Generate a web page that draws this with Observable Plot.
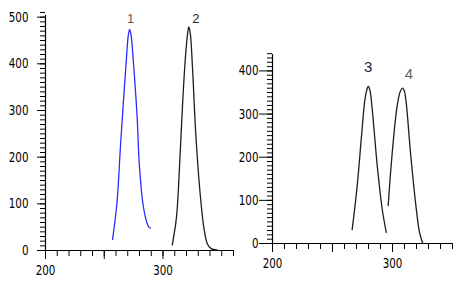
<!DOCTYPE html>
<html>
<head>
<meta charset="utf-8">
<script src="https://cdn.jsdelivr.net/npm/d3@7"></script>
<script src="https://cdn.jsdelivr.net/npm/@observablehq/plot@0.6"></script>
<style>
  html, body { margin: 0; padding: 0; background: #fff; }
  #wrap { position: relative; width: 471px; height: 294px; overflow: hidden; background: #fff; }
  #wrap svg { position: absolute; top: 0; background: none !important; }
</style>
</head>
<body>
<div id="wrap"></div>
<script>
// ---- data ----
const peak1X = [257.1, 260.9, 263.7, 266.5, 268.5, 270.5, 271.6, 272.8, 275.0, 277.9, 279.9, 283.1, 286.5, 288.0, 289.3];
const peak1Y = [24, 104, 219, 326, 397, 462, 474, 462, 397, 290, 182, 97, 58, 50, 48];
const peak2X = [307.9, 311.5, 314.1, 316.9, 319.2, 321.0, 322.0, 323.2, 325.0, 327.8, 331.5, 334.9, 337.8, 341.0, 346.3];
const peak2Y = [12, 72, 182, 325, 418, 466, 479, 466, 397, 254, 125, 47, 14, 4, 1];
const peak3X = [266.4, 270.6, 274.2, 276.9, 278.6, 279.8, 281.2, 283.1, 287.3, 291.4, 294.8];
const peak3Y = [32, 134, 250, 331, 356, 364, 355, 311, 180, 80, 26];
const peak4X = [296.4, 299.8, 303.9, 306.7, 308.6, 310.0, 311.4, 315.0, 319.2, 322.5, 325.3];
const peak4Y = [88, 211, 319, 354, 360, 352, 327, 211, 95, 26, 0];
const peakLabels = ["1", "2", "3", "4"];

const leftYMajor = [0, 100, 200, 300, 400, 500];
const rightYMajor = [0, 100, 200, 300, 400];
const xLabels = [200, 300];
const xMajor = [200, 250, 300];

const toRows = (xs, ys) => xs.map((x, i) => ({x, y: ys[i]}));
const peakOf = rows => rows.reduce((a, b) => (b.y > a.y ? b : a));

const tickFont = "'Liberation Sans Narrow', 'DejaVu Sans Condensed', sans-serif";

function panel({width, height, marginLeft, marginRight, marginTop, marginBottom,
                xDomain, yDomain, yMajor, majorTick, labelPad, series}) {
  const x0 = xDomain[0];
  const xMinor = d3.range(xDomain[0], xDomain[1] + 0.1, 10);
  const yMinor = d3.range(0, yDomain[1] + 0.1, 10);
  const marks = [
    // axis lines
    Plot.ruleX([x0], {y1: 0, y2: yDomain[1], stroke: "#000", strokeWidth: 1.2, insetBottom: -3}),
    Plot.ruleY([0], {x1: x0, x2: xDomain[1], stroke: "#000", strokeWidth: 1.2}),
    // y ticks (pointing left)
    Plot.ruleY(yMinor, {y: d => d, x1: x0, x2: x0, insetLeft: -2.5, insetRight: -2.5, dx: -2.5, stroke: "#000"}),
    Plot.ruleY(yMajor, {y: d => d, x1: x0, x2: x0, insetLeft: -majorTick / 2, insetRight: -majorTick / 2, dx: -majorTick / 2, stroke: "#000"}),
    Plot.text(yMajor, {x: x0, y: d => d, text: d => String(d), textAnchor: "end", dx: -(majorTick + labelPad),
      fontSize: 14, fontFamily: tickFont, fill: "#000", lineAnchor: "middle"}),
    // x ticks (pointing down)
    Plot.ruleX(xMinor, {x: d => d, y1: 0, y2: 0, insetTop: -3, insetBottom: -3, dy: 3, stroke: "#000"}),
    Plot.ruleX(xMajor, {x: d => d, y1: 0, y2: 0, insetTop: -4.5, insetBottom: -4.5, dy: 4.5, stroke: "#000"}),
    Plot.text(xLabels, {x: d => d, y: 0, dy: 20, text: d => String(d),
      fontSize: 14, fontFamily: tickFont, fill: "#000", lineAnchor: "middle"}),
  ];
  series.forEach(s => {
    marks.push(Plot.line(s.rows, {x: "x", y: "y", stroke: s.color, strokeWidth: 1.3, curve: "catmull-rom"}));
    const p = peakOf(s.rows);
    marks.push(Plot.text([p], {x: "x", y: "y", text: () => s.label, dx: s.dx, dy: s.dy,
      fontSize: s.size, fontFamily: "'Liberation Sans', sans-serif", fill: s.labelColor, lineAnchor: "middle"}));
  });
  const svg = Plot.plot({
    width, height, marginLeft, marginRight, marginTop, marginBottom,
    x: {domain: xDomain, axis: null}, y: {domain: yDomain, axis: null},
    style: {background: "none", overflow: "visible"},
    marks
  });
  // narrow the tick-label glyphs horizontally
  d3.select(svg).selectAll("text").each(function () {
    const t = this.textContent;
    if (!/^\d+$/.test(t) || peakLabels.includes(t)) return;
    const tr = this.getAttribute("transform") || "";
    this.setAttribute("transform", tr + " scale(0.82,1)");
  });
  return svg;
}

const left = panel({
  width: 240, height: 294, marginLeft: 45, marginRight: 7, marginTop: 12, marginBottom: 44,
  xDomain: [200, 360], yDomain: [0, 510], yMajor: leftYMajor, majorTick: 8, labelPad: 9,
  series: [
    {rows: toRows(peak1X, peak1Y), color: "#2b2bff", label: peakLabels[0], dx: 1, dy: -10, size: 13, labelColor: "#6b5444"},
    {rows: toRows(peak2X, peak2Y), color: "#1e1e1e", label: peakLabels[1], dx: 7, dy: -8, size: 13, labelColor: "#2a2a2a"}
  ]
});
left.style.left = "0px";

const right = panel({
  width: 241, height: 294, marginLeft: 42, marginRight: 19, marginTop: 51, marginBottom: 51,
  xDomain: [200, 350], yDomain: [0, 445], yMajor: rightYMajor, majorTick: 13, labelPad: 1,
  series: [
    {rows: toRows(peak3X, peak3Y), color: "#1e1e1e", label: peakLabels[2], dx: 0, dy: -19, size: 15, labelColor: "#22223a"},
    {rows: toRows(peak4X, peak4Y), color: "#1e1e1e", label: peakLabels[3], dx: 6, dy: -14, size: 15, labelColor: "#5c6a5c"}
  ]
});
right.style.left = "230px";

const wrap = document.getElementById("wrap");
wrap.appendChild(left);
wrap.appendChild(right);
</script>
</body>
</html>
